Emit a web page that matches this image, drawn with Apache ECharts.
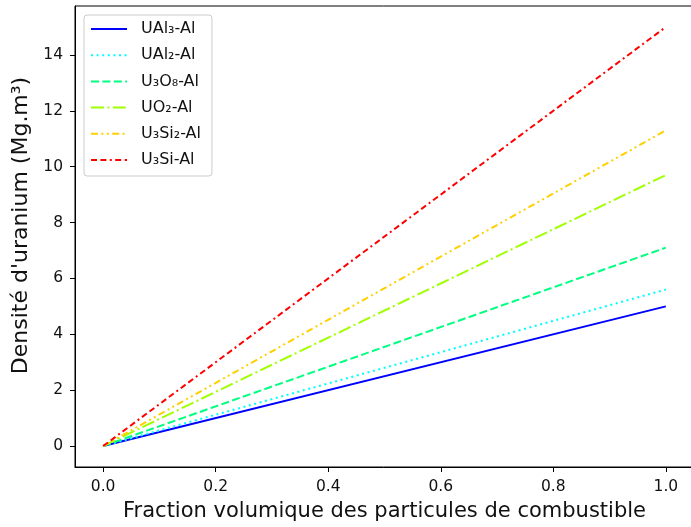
<!DOCTYPE html>
<html>
<head>
<meta charset="utf-8">
<script src="https://cdn.jsdelivr.net/npm/echarts@6/dist/echarts.min.js"></script>
<style>
  html, body { margin: 0; padding: 0; background: #fff; }
  #chart { width: 691px; height: 527px; }
</style>
</head>
<body>
<div id="chart"></div>
<script>
// Volume fraction of fuel particles (x) and uranium density at each end (y)
const fractions = [0.0, 1.0];
const seriesNames = ['UAl₃-Al', 'UAl₂-Al', 'U₃O₈-Al', 'UO₂-Al', 'U₃Si₂-Al', 'U₃Si-Al'];
const uAl3 = [0.0, 5.0];
const uAl2 = [0.0, 5.6];
const u3o8 = [0.0, 7.1];
const uo2 = [0.0, 9.7];
const u3si2 = [0.0, 11.3];
const u3si = [0.0, 15.0];
const xTicks = [0.0, 0.2, 0.4, 0.6, 0.8, 1.0];
const yTicks = [0, 2, 4, 6, 8, 10, 12, 14];

const seriesValues = [uAl3, uAl2, u3o8, uo2, u3si2, u3si];
const colors = ['#0000ff', '#00ffff', '#00ff80', '#a0ff00', '#ffd000', '#ff0000'];
const dashes = [
  'solid',
  [2, 3.6],
  [8, 3.4],
  [13, 3.4, 2, 3.4],
  [7, 3.4, 2, 3.4, 2, 3.4],
  [6, 3.4, 6, 3.4, 2, 3.4]
];

const FONT = 'DejaVu Sans';

const series = seriesNames.map((name, i) => ({
  name: name,
  type: 'line',
  symbol: 'none',
  data: fractions.map((x, j) => [x, seriesValues[i][j]]),
  lineStyle: { color: colors[i], width: 2, type: dashes[i], cap: 'butt' },
  itemStyle: { color: colors[i] },
  z: 2 + i
}));

const chart = echarts.init(document.getElementById('chart'), null, { renderer: 'canvas' });
chart.setOption({
  animation: false,
  backgroundColor: '#ffffff',
  textStyle: { fontFamily: FONT },
  grid: {
    left: 75, top: 6, width: 619, bottom: 60,
    outerBoundsMode: 'none',
    containLabel: false,
    show: true, borderColor: '#000', borderWidth: 1, backgroundColor: 'transparent'
  },
  legend: {
    orient: 'vertical',
    left: 84, top: 15,
    padding: [6, 11, 8, 6],
    itemWidth: 36, itemHeight: 16, itemGap: 10.2,
    backgroundColor: 'rgba(255,255,255,0.8)',
    borderColor: '#cccccc', borderWidth: 1, borderRadius: 3,
    itemStyle: { opacity: 0 },
    textStyle: { fontFamily: FONT, fontSize: 16, color: '#111', padding: [0, 0, 0, 9] },
    data: seriesNames
  },
  xAxis: {
    type: 'value',
    min: -0.05, max: 1.05,
    name: 'Fraction volumique des particules de combustible',
    nameLocation: 'middle', nameGap: 34,
    nameTextStyle: { fontFamily: FONT, fontSize: 21, color: '#111' },
    axisLine: { show: true, onZero: false, lineStyle: { color: '#000', width: 1 } },
    axisTick: { show: true, length: 5, inside: false, customValues: xTicks, lineStyle: { color: '#000' } },
    axisLabel: {
      customValues: xTicks, margin: 12, fontFamily: FONT, fontSize: 15.5, color: '#111',
      formatter: v => v.toFixed(1)
    },
    splitLine: { show: false }
  },
  yAxis: {
    type: 'value',
    min: -0.75, max: 15.75,
    name: "Densité d'uranium (Mg.m³)",
    nameLocation: 'middle', nameGap: 40, nameRotate: 90,
    nameTextStyle: { fontFamily: FONT, fontSize: 22, color: '#111', padding: [0, 0, 0, 22] },
    axisLine: { show: true, onZero: false, lineStyle: { color: '#000', width: 1 } },
    axisTick: { show: true, length: 5, inside: false, customValues: yTicks, lineStyle: { color: '#000' } },
    axisLabel: {
      customValues: yTicks, margin: 12, fontFamily: FONT, fontSize: 15.5, color: '#111',
      formatter: v => String(v)
    },
    splitLine: { show: false }
  },
  series: series
});
</script>
</body>
</html>
